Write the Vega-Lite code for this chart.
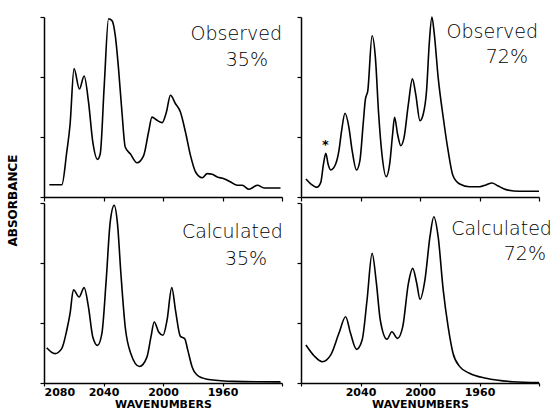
{
  "$schema": "https://vega.github.io/schema/vega-lite/v6.json",
  "background": "white",
  "padding": {"left": 6, "top": 13, "right": 5, "bottom": 0},
  "datasets": {
    "spectra": [
      {"panel": "obs35", "wn": 2076.4, "a": 0.068}, {"panel": "obs35", "wn": 2068, "a": 0.068},
      {"panel": "obs35", "wn": 2064.7, "a": 0.25}, {"panel": "obs35", "wn": 2062.5, "a": 0.40},
      {"panel": "obs35", "wn": 2059.8, "a": 0.713}, {"panel": "obs35", "wn": 2056.2, "a": 0.60},
      {"panel": "obs35", "wn": 2053, "a": 0.672}, {"panel": "obs35", "wn": 2050.1, "a": 0.53},
      {"panel": "obs35", "wn": 2047.2, "a": 0.306}, {"panel": "obs35", "wn": 2044, "a": 0.209},
      {"panel": "obs35", "wn": 2042.2, "a": 0.24}, {"panel": "obs35", "wn": 2039.5, "a": 0.62},
      {"panel": "obs35", "wn": 2036.6, "a": 0.99}, {"panel": "obs35", "wn": 2034.3, "a": 0.98},
      {"panel": "obs35", "wn": 2032.1, "a": 0.898}, {"panel": "obs35", "wn": 2029.9, "a": 0.713},
      {"panel": "obs35", "wn": 2027.6, "a": 0.472}, {"panel": "obs35", "wn": 2025.4, "a": 0.278},
      {"panel": "obs35", "wn": 2022, "a": 0.24}, {"panel": "obs35", "wn": 2017.5, "a": 0.19},
      {"panel": "obs35", "wn": 2013, "a": 0.23}, {"panel": "obs35", "wn": 2009.7, "a": 0.361},
      {"panel": "obs35", "wn": 2007.4, "a": 0.444}, {"panel": "obs35", "wn": 2004, "a": 0.426},
      {"panel": "obs35", "wn": 2000.6, "a": 0.413}, {"panel": "obs35", "wn": 1997.7, "a": 0.472},
      {"panel": "obs35", "wn": 1995, "a": 0.565}, {"panel": "obs35", "wn": 1991.6, "a": 0.518},
      {"panel": "obs35", "wn": 1988.3, "a": 0.472}, {"panel": "obs35", "wn": 1984.9, "a": 0.361},
      {"panel": "obs35", "wn": 1981.5, "a": 0.23}, {"panel": "obs35", "wn": 1978.1, "a": 0.139},
      {"panel": "obs35", "wn": 1973.6, "a": 0.107}, {"panel": "obs35", "wn": 1970.3, "a": 0.13},
      {"panel": "obs35", "wn": 1966.9, "a": 0.126}, {"panel": "obs35", "wn": 1963.5, "a": 0.111},
      {"panel": "obs35", "wn": 1959, "a": 0.102}, {"panel": "obs35", "wn": 1954.5, "a": 0.083},
      {"panel": "obs35", "wn": 1950, "a": 0.065}, {"panel": "obs35", "wn": 1946.7, "a": 0.065},
      {"panel": "obs35", "wn": 1942.2, "a": 0.043}, {"panel": "obs35", "wn": 1936.5, "a": 0.065},
      {"panel": "obs35", "wn": 1932, "a": 0.05}, {"panel": "obs35", "wn": 1921, "a": 0.05},

      {"panel": "obs72", "wn": 2076.7, "a": 0.1}, {"panel": "obs72", "wn": 2073.3, "a": 0.072},
      {"panel": "obs72", "wn": 2069.3, "a": 0.054}, {"panel": "obs72", "wn": 2066.7, "a": 0.081},
      {"panel": "obs72", "wn": 2064.9, "a": 0.183}, {"panel": "obs72", "wn": 2063.3, "a": 0.243},
      {"panel": "obs72", "wn": 2061.8, "a": 0.183}, {"panel": "obs72", "wn": 2060, "a": 0.15},
      {"panel": "obs72", "wn": 2056.7, "a": 0.183}, {"panel": "obs72", "wn": 2054.5, "a": 0.257},
      {"panel": "obs72", "wn": 2052.7, "a": 0.368}, {"panel": "obs72", "wn": 2050.4, "a": 0.465},
      {"panel": "obs72", "wn": 2047.8, "a": 0.387}, {"panel": "obs72", "wn": 2045.6, "a": 0.257},
      {"panel": "obs72", "wn": 2042.7, "a": 0.15}, {"panel": "obs72", "wn": 2040.4, "a": 0.202},
      {"panel": "obs72", "wn": 2038.2, "a": 0.406}, {"panel": "obs72", "wn": 2036.7, "a": 0.544},
      {"panel": "obs72", "wn": 2035.1, "a": 0.59}, {"panel": "obs72", "wn": 2032.2, "a": 0.896},
      {"panel": "obs72", "wn": 2030, "a": 0.776}, {"panel": "obs72", "wn": 2027.8, "a": 0.461},
      {"panel": "obs72", "wn": 2025.6, "a": 0.239}, {"panel": "obs72", "wn": 2022.7, "a": 0.113},
      {"panel": "obs72", "wn": 2020.4, "a": 0.183}, {"panel": "obs72", "wn": 2018.4, "a": 0.35},
      {"panel": "obs72", "wn": 2017.1, "a": 0.443}, {"panel": "obs72", "wn": 2015.1, "a": 0.35},
      {"panel": "obs72", "wn": 2012.9, "a": 0.285}, {"panel": "obs72", "wn": 2010.7, "a": 0.331},
      {"panel": "obs72", "wn": 2007.8, "a": 0.517}, {"panel": "obs72", "wn": 2005.1, "a": 0.656},
      {"panel": "obs72", "wn": 2002.9, "a": 0.572}, {"panel": "obs72", "wn": 2000, "a": 0.424},
      {"panel": "obs72", "wn": 1997.8, "a": 0.461}, {"panel": "obs72", "wn": 1995.6, "a": 0.59},
      {"panel": "obs72", "wn": 1993.8, "a": 0.85}, {"panel": "obs72", "wn": 1992, "a": 1.0},
      {"panel": "obs72", "wn": 1990.4, "a": 0.906}, {"panel": "obs72", "wn": 1987.8, "a": 0.665},
      {"panel": "obs72", "wn": 1984.4, "a": 0.443}, {"panel": "obs72", "wn": 1981.1, "a": 0.257},
      {"panel": "obs72", "wn": 1977.8, "a": 0.118}, {"panel": "obs72", "wn": 1973.3, "a": 0.072},
      {"panel": "obs72", "wn": 1966.7, "a": 0.057}, {"panel": "obs72", "wn": 1960, "a": 0.057},
      {"panel": "obs72", "wn": 1955.6, "a": 0.067}, {"panel": "obs72", "wn": 1951.6, "a": 0.078},
      {"panel": "obs72", "wn": 1947.8, "a": 0.063}, {"panel": "obs72", "wn": 1942.2, "a": 0.041},
      {"panel": "obs72", "wn": 1933.3, "a": 0.032}, {"panel": "obs72", "wn": 1920, "a": 0.032},

      {"panel": "calc35", "wn": 2078.2, "a": 0.196}, {"panel": "calc35", "wn": 2072.6, "a": 0.163},
      {"panel": "calc35", "wn": 2068.1, "a": 0.191}, {"panel": "calc35", "wn": 2064.7, "a": 0.293},
      {"panel": "calc35", "wn": 2062.5, "a": 0.385}, {"panel": "calc35", "wn": 2060.2, "a": 0.518},
      {"panel": "calc35", "wn": 2056.4, "a": 0.478}, {"panel": "calc35", "wn": 2053, "a": 0.53},
      {"panel": "calc35", "wn": 2050.1, "a": 0.422}, {"panel": "calc35", "wn": 2047.2, "a": 0.256},
      {"panel": "calc35", "wn": 2044, "a": 0.209}, {"panel": "calc35", "wn": 2041.1, "a": 0.274},
      {"panel": "calc35", "wn": 2038.2, "a": 0.57}, {"panel": "calc35", "wn": 2035.5, "a": 0.894},
      {"panel": "calc35", "wn": 2032.8, "a": 0.987}, {"panel": "calc35", "wn": 2030.6, "a": 0.885},
      {"panel": "calc35", "wn": 2028.3, "a": 0.607}, {"panel": "calc35", "wn": 2025.4, "a": 0.311},
      {"panel": "calc35", "wn": 2021.6, "a": 0.163}, {"panel": "calc35", "wn": 2015.8, "a": 0.092},
      {"panel": "calc35", "wn": 2010.8, "a": 0.144}, {"panel": "calc35", "wn": 2008.1, "a": 0.256},
      {"panel": "calc35", "wn": 2005.9, "a": 0.339}, {"panel": "calc35", "wn": 2002.9, "a": 0.283},
      {"panel": "calc35", "wn": 2000, "a": 0.265}, {"panel": "calc35", "wn": 1997.3, "a": 0.348},
      {"panel": "calc35", "wn": 1994.1, "a": 0.53}, {"panel": "calc35", "wn": 1991.6, "a": 0.404},
      {"panel": "calc35", "wn": 1988.3, "a": 0.259}, {"panel": "calc35", "wn": 1985.4, "a": 0.246},
      {"panel": "calc35", "wn": 1983.3, "a": 0.181}, {"panel": "calc35", "wn": 1980.4, "a": 0.089},
      {"panel": "calc35", "wn": 1975.9, "a": 0.037}, {"panel": "calc35", "wn": 1968, "a": 0.018},
      {"panel": "calc35", "wn": 1952.3, "a": 0.009}, {"panel": "calc35", "wn": 1921, "a": 0.006},

      {"panel": "calc72", "wn": 2076.7, "a": 0.211}, {"panel": "calc72", "wn": 2071.1, "a": 0.15},
      {"panel": "calc72", "wn": 2065.6, "a": 0.118}, {"panel": "calc72", "wn": 2060, "a": 0.156},
      {"panel": "calc72", "wn": 2054.5, "a": 0.276}, {"panel": "calc72", "wn": 2050, "a": 0.368},
      {"panel": "calc72", "wn": 2046.7, "a": 0.276}, {"panel": "calc72", "wn": 2042.7, "a": 0.187},
      {"panel": "calc72", "wn": 2038.9, "a": 0.239}, {"panel": "calc72", "wn": 2035.6, "a": 0.461},
      {"panel": "calc72", "wn": 2032.2, "a": 0.72}, {"panel": "calc72", "wn": 2029.3, "a": 0.554},
      {"panel": "calc72", "wn": 2026.7, "a": 0.35}, {"panel": "calc72", "wn": 2022.2, "a": 0.243},
      {"panel": "calc72", "wn": 2018.9, "a": 0.285}, {"panel": "calc72", "wn": 2015.1, "a": 0.248},
      {"panel": "calc72", "wn": 2011.6, "a": 0.313}, {"panel": "calc72", "wn": 2007.8, "a": 0.554},
      {"panel": "calc72", "wn": 2004.9, "a": 0.637}, {"panel": "calc72", "wn": 2002.2, "a": 0.554},
      {"panel": "calc72", "wn": 2000, "a": 0.465}, {"panel": "calc72", "wn": 1996.7, "a": 0.572},
      {"panel": "calc72", "wn": 1993.3, "a": 0.813}, {"panel": "calc72", "wn": 1990.7, "a": 0.924},
      {"panel": "calc72", "wn": 1987.8, "a": 0.813}, {"panel": "calc72", "wn": 1984.4, "a": 0.517},
      {"panel": "calc72", "wn": 1981.1, "a": 0.313}, {"panel": "calc72", "wn": 1977.8, "a": 0.165},
      {"panel": "calc72", "wn": 1973.3, "a": 0.091}, {"panel": "calc72", "wn": 1966.7, "a": 0.054},
      {"panel": "calc72", "wn": 1955.6, "a": 0.026}, {"panel": "calc72", "wn": 1937.8, "a": 0.007},
      {"panel": "calc72", "wn": 1920, "a": 0.002}
    ],
    "notes": [
      {"panel": "obs35", "kind": "Observed", "share": "35%"},
      {"panel": "obs72", "kind": "Observed", "share": "72%"},
      {"panel": "calc35", "kind": "Calculated", "share": "35%"},
      {"panel": "calc72", "kind": "Calculated", "share": "72%"}
    ]
  },
  "config": {
    "view": {"stroke": null},
    "axis": {
      "grid": false,
      "domainColor": "#000",
      "domainWidth": 1.5,
      "tickColor": "#000",
      "tickWidth": 1.2,
      "tickSize": 4,
      "labelFont": "DejaVu Sans",
      "labelFontWeight": "bold",
      "labelFontSize": 11,
      "labelColor": "#000",
      "labelPadding": 0,
      "titleFont": "DejaVu Sans",
      "titleFontWeight": "bold",
      "titleFontSize": 11,
      "titleColor": "#000"
    },
    "text": {"font": "DejaVu Sans", "fontSize": 19, "fontWeight": 300, "color": "#000", "align": "right", "baseline": "alphabetic"}
  },
  "bounds": "flush",
  "columns": 2,
  "spacing": {"row": 6, "column": 19},
  "concat": [
    {
      "width": 238,
      "height": 180,
      "layer": [
        {
          "data": {"name": "spectra"},
          "transform": [{"filter": "datum.panel === 'obs35'"}],
          "mark": {"type": "line", "interpolate": "monotone", "color": "#000", "strokeWidth": 1.6},
          "encoding": {
            "x": {"field": "wn", "type": "quantitative",
                  "scale": {"domain": [1920, 2080], "reverse": true, "nice": false, "zero": false},
                  "axis": {"values": [2080, 2040, 2000, 1960, 1920], "labels": false, "title": null}},
            "y": {"field": "a", "type": "quantitative",
                  "scale": {"domain": [0, 1], "nice": false},
                  "axis": {"values": [0, 0.3333, 0.6667, 1], "labels": false, "title": "ABSORBANCE",
                           "titleFontSize": 12,
                           "titleAngle": 270, "titleAlign": "center", "titleBaseline": "middle",
                           "titleX": -32, "titleY": 183}}
          }
        },
        {
          "data": {"name": "notes"},
          "transform": [{"filter": "datum.panel === 'obs35'"}],
          "mark": {"type": "text"},
          "encoding": {"x": {"datum": 1920}, "y": {"datum": 0.872}, "text": {"field": "kind"}}
        },
        {
          "data": {"name": "notes"},
          "transform": [{"filter": "datum.panel === 'obs35'"}],
          "mark": {"type": "text"},
          "encoding": {"x": {"datum": 1929.4}, "y": {"datum": 0.728}, "text": {"field": "share"}}
        }
      ]
    },
    {
      "width": 238,
      "height": 180,
      "layer": [
        {
          "data": {"name": "spectra"},
          "transform": [{"filter": "datum.panel === 'obs72'"}],
          "mark": {"type": "line", "interpolate": "monotone", "color": "#000", "strokeWidth": 1.6},
          "encoding": {
            "x": {"field": "wn", "type": "quantitative",
                  "scale": {"domain": [1920, 2080], "reverse": true, "nice": false, "zero": false},
                  "axis": {"values": [2080, 2040, 2000, 1960, 1920], "labels": false, "title": null}},
            "y": {"field": "a", "type": "quantitative",
                  "scale": {"domain": [0, 1], "nice": false},
                  "axis": {"values": [0, 0.3333, 0.6667, 1], "labels": false, "title": null}}
          }
        },
        {
          "data": {"name": "notes"},
          "transform": [{"filter": "datum.panel === 'obs72'"}],
          "mark": {"type": "text"},
          "encoding": {"x": {"datum": 1920.7}, "y": {"datum": 0.883}, "text": {"field": "kind"}}
        },
        {
          "data": {"name": "notes"},
          "transform": [{"filter": "datum.panel === 'obs72'"}],
          "mark": {"type": "text"},
          "encoding": {"x": {"datum": 1927.4}, "y": {"datum": 0.744}, "text": {"field": "share"}}
        },
        {
          "data": {"name": "notes"},
          "transform": [{"filter": "datum.panel === 'obs72'"}],
          "mark": {"type": "text", "text": "*", "align": "center", "baseline": "middle", "fontSize": 13, "fontWeight": "bold"},
          "encoding": {"x": {"datum": 2063.6}, "y": {"datum": 0.29}}
        }
      ]
    },
    {
      "width": 238,
      "height": 180,
      "layer": [
        {
          "data": {"name": "spectra"},
          "transform": [{"filter": "datum.panel === 'calc35'"}],
          "mark": {"type": "line", "interpolate": "monotone", "color": "#000", "strokeWidth": 1.6},
          "encoding": {
            "x": {"field": "wn", "type": "quantitative",
                  "scale": {"domain": [1920, 2080], "reverse": true, "nice": false, "zero": false},
                  "axis": {"values": [2080, 2040, 2000, 1960, 1920], "format": "d", "tickSize": 3,
                           "labelExpr": "datum.value == 1920 ? '' : datum.label",
                           "labelDx": 5, "title": "WAVENUMBERS",
                           "titleBaseline": "alphabetic", "titleY": 24}},
            "y": {"field": "a", "type": "quantitative",
                  "scale": {"domain": [0, 1], "nice": false},
                  "axis": {"values": [0, 0.3333, 0.6667, 1], "labels": false, "title": null}}
          }
        },
        {
          "data": {"name": "notes"},
          "transform": [{"filter": "datum.panel === 'calc35'"}],
          "mark": {"type": "text"},
          "encoding": {"x": {"datum": 1919.5}, "y": {"datum": 0.806}, "text": {"field": "kind"}}
        },
        {
          "data": {"name": "notes"},
          "transform": [{"filter": "datum.panel === 'calc35'"}],
          "mark": {"type": "text"},
          "encoding": {"x": {"datum": 1930}, "y": {"datum": 0.656}, "text": {"field": "share"}}
        }
      ]
    },
    {
      "width": 238,
      "height": 180,
      "layer": [
        {
          "data": {"name": "spectra"},
          "transform": [{"filter": "datum.panel === 'calc72'"}],
          "mark": {"type": "line", "interpolate": "monotone", "color": "#000", "strokeWidth": 1.6},
          "encoding": {
            "x": {"field": "wn", "type": "quantitative",
                  "scale": {"domain": [1920, 2080], "reverse": true, "nice": false, "zero": false},
                  "axis": {"values": [2080, 2040, 2000, 1960, 1920], "format": "d", "tickSize": 3,
                           "labelExpr": "datum.value == 1920 || datum.value == 2080 ? '' : datum.label",
                           "labelDx": 5, "title": "WAVENUMBERS",
                           "titleBaseline": "alphabetic", "titleY": 24}},
            "y": {"field": "a", "type": "quantitative",
                  "scale": {"domain": [0, 1], "nice": false},
                  "axis": {"values": [0, 0.3333, 0.6667, 1], "labels": false, "title": null}}
          }
        },
        {
          "data": {"name": "notes"},
          "transform": [{"filter": "datum.panel === 'calc72'"}],
          "mark": {"type": "text"},
          "encoding": {"x": {"datum": 1911.3}, "y": {"datum": 0.822}, "text": {"field": "kind"}}
        },
        {
          "data": {"name": "notes"},
          "transform": [{"filter": "datum.panel === 'calc72'"}],
          "mark": {"type": "text"},
          "encoding": {"x": {"datum": 1915.3}, "y": {"datum": 0.683}, "text": {"field": "share"}}
        }
      ]
    }
  ]
}
